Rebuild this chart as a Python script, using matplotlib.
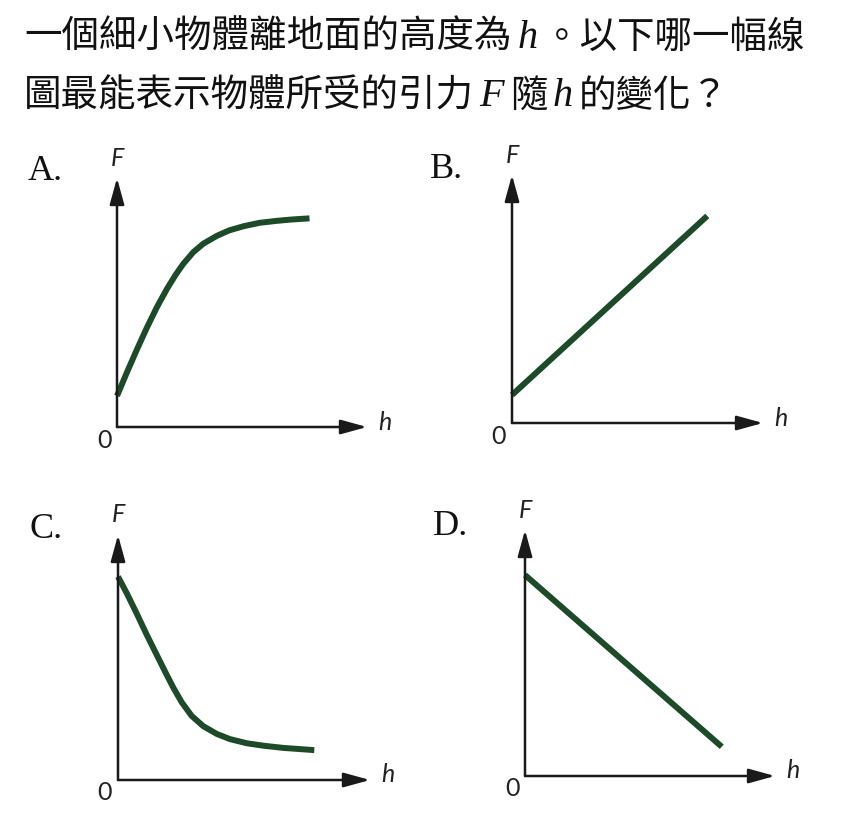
import matplotlib
matplotlib.use("Agg")
import matplotlib.pyplot as plt
from matplotlib.offsetbox import TextArea, HPacker, AnnotationBbox

W, H = 856, 814

# question text, split where the italic symbols sit
line1 = [("c", "一個細小物體離地面的高度為"), ("i", "h"), ("c", "。以下哪一幅線")]
line2 = [("c", "圖最能表示物體所受的引力"), ("i", "F"), ("c", "隨"), ("i", "h"), ("c", "的變化？")]

panel_labels = ["A.", "B.", "C.", "D."]

# curves (h and F on a 0..10 scale)
h_A = [0, 0.4, 0.8, 1.2, 1.6, 2.0, 2.35, 2.65, 3.05, 3.45, 4.0, 4.5, 5.05, 5.7, 6.4, 6.95, 7.7]
F_A = [1.25, 2.2, 3.12, 4.0, 4.82, 5.55, 6.12, 6.55, 7.02, 7.36, 7.68, 7.9, 8.06, 8.2, 8.28, 8.33, 8.38]

h_B = [0, 7.78]
F_B = [1.13, 8.35]

h_C = [0, 0.35, 0.74, 1.14, 1.55, 1.9, 2.2, 2.53, 2.92, 3.38, 3.92, 4.44, 5.11, 5.77, 6.56, 7.79]
F_C = [8.3, 7.62, 6.8, 5.93, 5.08, 4.36, 3.76, 3.17, 2.62, 2.2, 1.88, 1.67, 1.5, 1.4, 1.31, 1.22]

h_D = [0, 7.87]
F_D = [8.17, 1.19]

series = [(h_A, F_A), (h_B, F_B), (h_C, F_C), (h_D, F_D)]

# axes boxes in image pixels: origin x, origin y, arrow tip x, arrow tip y
boxes = [(117, 427, 367, 178), (512, 423, 763, 175),
         (118, 780, 370, 535), (525, 776, 775, 530)]
letter_pos = [(28, 180), (430, 178), (30, 538), (433, 535)]

green = "#1d4a28"
ink = "#1a1a1a"

fig = plt.figure(figsize=(W / 100, H / 100), dpi=100)
fig.patch.set_facecolor("white")

cjk = dict(family=["Noto Sans CJK TC", "DejaVu Sans"], size=27, color="#111111")
ital = dict(family="Liberation Serif", style="italic", size=29, color="#111111")


def title_line(parts, y_top):
    areas = [TextArea(s, textprops=cjk if k == "c" else ital) for k, s in parts]
    pack = HPacker(children=areas, align="baseline", pad=0, sep=4)
    ab = AnnotationBbox(pack, (24, H - y_top), xycoords="figure pixels",
                        box_alignment=(0, 0.5), frameon=False, pad=0)
    fig.add_artist(ab)


title_line(line1, 37)
title_line(line2, 96)

lab = dict(family="Lato", style="italic", size=18, color="#222222")

for (h, F), (x0, y0, x1, y1), name, (lx, ly) in zip(series, boxes, panel_labels, letter_pos):
    ax = fig.add_axes([x0 / W, 1 - y0 / H, (x1 - x0) / W, (y0 - y1) / H])
    ax.set_xlim(0, 10)
    ax.set_ylim(0, 10)
    ax.axis("off")

    ax.plot(h, F, color=green, lw=4.3, solid_capstyle="butt",
            solid_joinstyle="round", clip_on=False)

    arrow = dict(arrowstyle="-|>,head_length=0.8,head_width=0.22", mutation_scale=20,
                 lw=1.8, color=ink, shrinkA=0, shrinkB=0)
    ax.annotate("", xy=(1, 0), xytext=(0, 0), xycoords="axes fraction", arrowprops=arrow)
    ax.annotate("", xy=(0, 1), xytext=(0, 0), xycoords="axes fraction", arrowprops=arrow)

    ax.annotate("F", xy=(0, 1), xycoords="axes fraction", xytext=(0, 20),
                textcoords="offset pixels", ha="center", va="center", **lab)
    ax.annotate("h", xy=(1, 0), xycoords="axes fraction", xytext=(18, 5),
                textcoords="offset pixels", ha="center", va="center", **lab)
    ax.annotate("0", xy=(0, 0), xycoords="axes fraction", xytext=(-13, -13),
                textcoords="offset pixels", ha="center", va="center",
                family="Lato", size=18, color="#222222")

    fig.text(lx / W, 1 - ly / H, name, family="Liberation Serif", size=26,
             color="#111111", ha="left", va="baseline")

fig.savefig("out.png", dpi=100)
